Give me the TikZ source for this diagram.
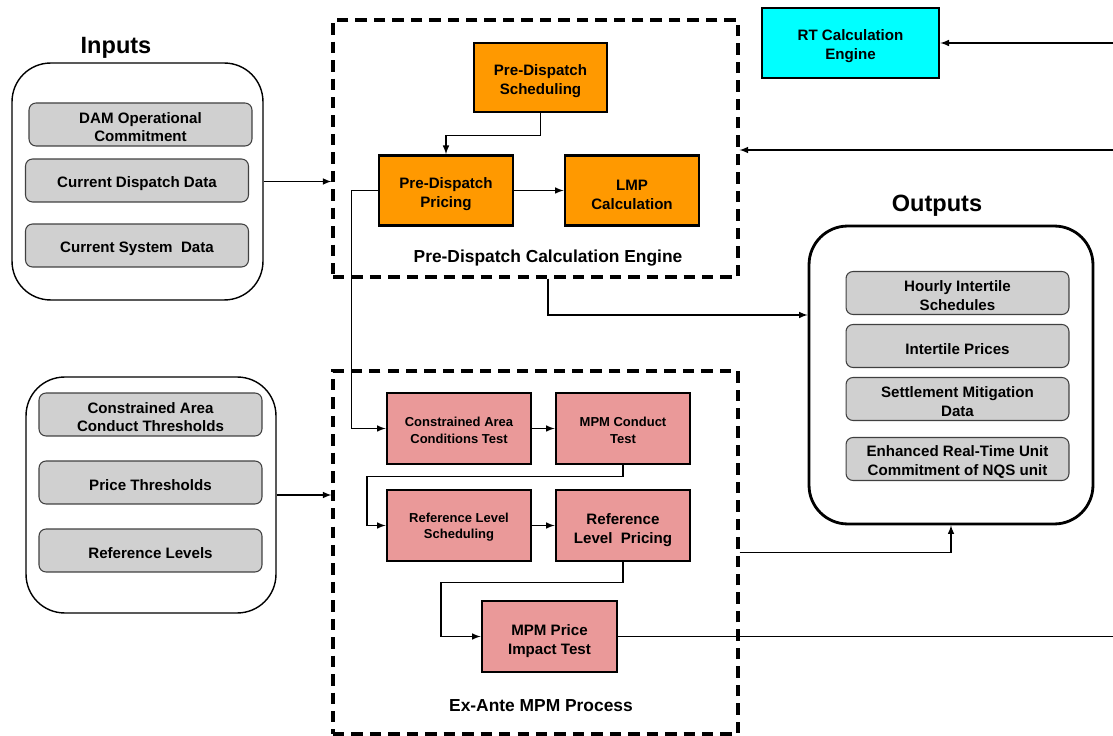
\documentclass[tikz,border=0pt]{standalone}
\usepackage{fontspec}
\setmainfont{Liberation Sans}
\usepackage{tikz}
\usetikzlibrary{calc}

\definecolor{pdorange}{HTML}{FF9900}
\definecolor{mpmpink}{HTML}{EA9999}
\definecolor{rtcyan}{HTML}{00FFFF}
\definecolor{itemgray}{HTML}{D0D0D0}

% invisible strut that pushes box text down a little
\newcommand{\lift}[1][10.6pt]{\rule{0pt}{#1}}

\begin{document}
\begin{tikzpicture}[
        x=0.02cm, y=-0.02cm,
        every node/.style = {
            align=center,
            inner sep=1pt,
            font=\bfseries\fontsize{8.6}{10.8}\selectfont
        },
        grayitem/.style = {
            draw=black!75, line width=0.6pt,
            fill=itemgray,
            rounded corners=4pt,
            minimum width=4.46cm,
            minimum height=0.86cm
        },
        pdstep/.style = {
            draw, line width=1.6pt,
            fill=pdorange,
            minimum width=2.68cm,
            minimum height=1.40cm
        },
        mpmstep/.style = {
            draw, line width=1.6pt,
            fill=mpmpink,
            minimum width=2.68cm,
            minimum height=1.42cm
        },
        smalltext/.style = {font=\bfseries\fontsize{7.4}{9.3}\selectfont},
        group/.style = {draw, rounded corners=22pt, line width=0.8pt},
        dashgroup/.style = {draw, line width=1.8pt, dash pattern=on 6.5pt off 4pt},
        heading/.style = {font=\bfseries\fontsize{13.4}{16}\selectfont},
        caption/.style = {font=\bfseries\fontsize{9.9}{12}\selectfont},
        conn/.style = {-latex, line width=0.7pt}]

    \useasboundingbox (0,0) rectangle (1113,736);

    % containers
    \node[group, minimum width=5.02cm, minimum height=4.74cm] (inA) at (137.5,181.5) {};
    \node[group, minimum width=5.00cm, minimum height=4.72cm] (inB) at (151,495) {};
    \node[group, line width=1.6pt, minimum width=5.68cm, minimum height=5.96cm] (outbox) at (951,375) {};
    \node[dashgroup, minimum width=8.10cm, minimum height=5.14cm] (pde) at (535.5,148.5) {};
    \node[dashgroup, minimum width=8.10cm, minimum height=7.26cm] (mpm) at (535.5,552.5) {};

    \node[heading] (inputs) at (116,48) {Inputs};
    \node[heading] (outputs) at (937,206) {Outputs};
    \node[caption] (pdelabel) at (548,258) {Pre-Dispatch Calculation Engine};
    \node[caption] (mpmlabel) at (541,705.5) {Ex-Ante MPM Process};

    % inputs
    \node[grayitem] (dam) at (140.5,124.5) {\lift[9.2pt]DAM Operational\\Commitment};
    \node[grayitem] (curdisp) at (137,180.5) {\lift[9.2pt]Current Dispatch Data};
    \node[grayitem] (cursys) at (137,245.5) {\lift[9.2pt]Current System~ Data};
    \node[grayitem] (cathr) at (150.5,414.5) {\lift[9.2pt]Constrained Area\\Conduct Thresholds};
    \node[grayitem] (pricethr) at (150.5,482.5) {\lift[9.2pt]Price Thresholds};
    \node[grayitem] (reflev) at (150.5,550.5) {\lift[9.2pt]Reference Levels};

    % outputs
    \node[grayitem] (hourly) at (957.5,293) {\lift[9.6pt]Hourly Intertile\\Schedules};
    \node[grayitem] (itprices) at (957.5,346) {\lift[9.6pt]Intertile Prices};
    \node[grayitem] (settle) at (957.5,399) {\lift[9.6pt]Settlement Mitigation\\Data};
    \node[grayitem] (enhanced) at (957.5,459) {\lift[9.6pt]Enhanced Real-Time Unit\\Commitment of NQS unit};

    % pre-dispatch engine
    \node[pdstep, minimum width=2.66cm, minimum height=1.38cm] (sched) at (540.5,77.5) {\lift Pre-Dispatch\\Scheduling};
    \node[pdstep] (pricing) at (446,190.5) {\lift Pre-Dispatch\\Pricing};
    \node[pdstep] (lmp) at (632,190.5) {\lift LMP\\Calculation};
    \node[pdstep, fill=rtcyan, minimum width=3.54cm] (rt) at (850.5,43) {\lift[9.8pt]RT Calculation\\Engine};

    % mpm process
    \node[mpmstep, smalltext, minimum width=2.88cm] (cact) at (459,428.5) {\lift[7.6pt]Constrained Area\\Conditions Test};
    \node[mpmstep, smalltext] (mpmct) at (623,428.5) {\lift[7.6pt]MPM Conduct\\Test};
    \node[mpmstep, smalltext, minimum width=2.88cm] (rls) at (459,525.5) {\lift[7.6pt]Reference Level\\Scheduling};
    \node[mpmstep] (rlp) at (623,525.5) {\lift[11pt]Reference\\Level~ Pricing};
    \node[mpmstep, minimum width=2.70cm] (mpit) at (549.5,636.5) {\lift[11pt]MPM Price\\Impact Test};

    \coordinate (rtin) at (1113,43);
    \coordinate (pdein) at (1113,150);
    \coordinate (mpmout) at (1113,636.5);

    % connectors
    \draw[conn] (inA.east) -- (inA.east -| pde.west);
    \draw[conn] (inB.east) -- (inB.east -| mpm.west);
    \draw[conn] (sched.south) -- ++(0,22) -| (pricing.north);
    \draw[conn] (pricing.east) -- (lmp.west);
    \draw[conn] (pricing.west) -- ++(-26,0) |- (cact.west);
    \draw[conn] (cact.east) -- (mpmct.west);
    \draw[conn] (mpmct.south) -- ++(0,11) -- ++(-256,0) |- (rls.west);
    \draw[conn] (rls.east) -- (rlp.west);
    \draw[conn] (rlp.south) -- ++(0,20) -- ++(-182,0) |- (mpit.west);
    \draw[line width=0.7pt] (mpit.east) -- (mpmout);
    \draw[conn] (rtin) -- (rt.east);
    \draw[conn] (pdein) -- (pdein -| pde.east);
    \draw[conn] (pdelabel |- pde.south) |- ($(outbox.west)+(0,-60)$);
    \draw[conn] (mpm.east) -| (outbox.south);
\end{tikzpicture}
\end{document}
